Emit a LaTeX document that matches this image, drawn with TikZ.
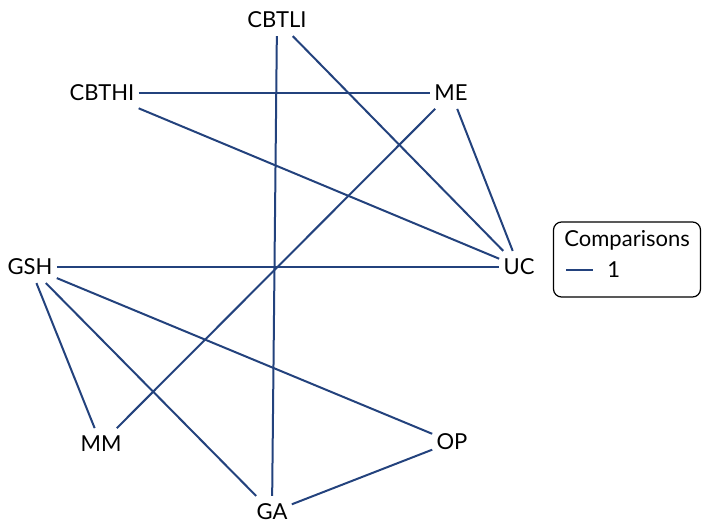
\documentclass[tikz,border=0pt]{standalone}
\usepackage{fontspec}
\setmainfont{Lato}
\usepackage{xcolor}
\usetikzlibrary{positioning}
\definecolor{linkblue}{RGB}{35,66,125}

\begin{document}
\begin{tikzpicture}[x=0.5pt,y=-0.5pt]%
  \tikzstyle{trt}=[inner xsep=2pt,inner ysep=3.8pt,font=\fontsize{11}{13}\selectfont]
  \tikzstyle{comp}=[draw=linkblue,line width=1pt]
  \useasboundingbox (0,0) rectangle (702,520);
  % treatments on the circle
  \node(CBTLI)[trt] at (277,20){CBTLI};
  \node(ME)[trt] at (451,93){ME};
  \node(UC)[trt] at (519,267){UC};
  \node(OP)[trt] at (452,442){OP};
  \node(GA)[trt] at (272,512){GA};
  \node(MM)[trt] at (101,444){MM};
  \node(GSH)[trt] at (30,267){GSH};
  \node(CBTHI)[trt] at (102,93){CBTHI};
  % comparisons
  \draw[comp] (CBTLI) -- (GA);
  \draw[comp] (CBTLI) -- (UC);
  \draw[comp] (CBTHI) -- (ME);
  \draw[comp] (CBTHI) -- (UC);
  \draw[comp] (ME) -- (UC);
  \draw[comp] (ME) -- (MM);
  \draw[comp] (GSH) -- (UC);
  \draw[comp] (GSH) -- (MM);
  \draw[comp] (GSH) -- (GA);
  \draw[comp] (GSH) -- (OP);
  \draw[comp] (GA) -- (OP);
  % legend
  \node(leg)[draw,rounded corners=4pt,line width=0.6pt,minimum width=73.5pt,minimum height=37.5pt] at (627,259.5){};
  \node(ttl)[font=\fontsize{11}{13}\selectfont,anchor=west,inner sep=0pt] at (564,240){Comparisons};
  \coordinate(l1) at (566,270);
  \coordinate(l2) at (593,270);
  \draw[comp] (l1) -- (l2);
  \node(one)[font=\fontsize{11}{13}\selectfont,inner sep=0pt,right=7pt of l2]{1};
\end{tikzpicture}
\end{document}
